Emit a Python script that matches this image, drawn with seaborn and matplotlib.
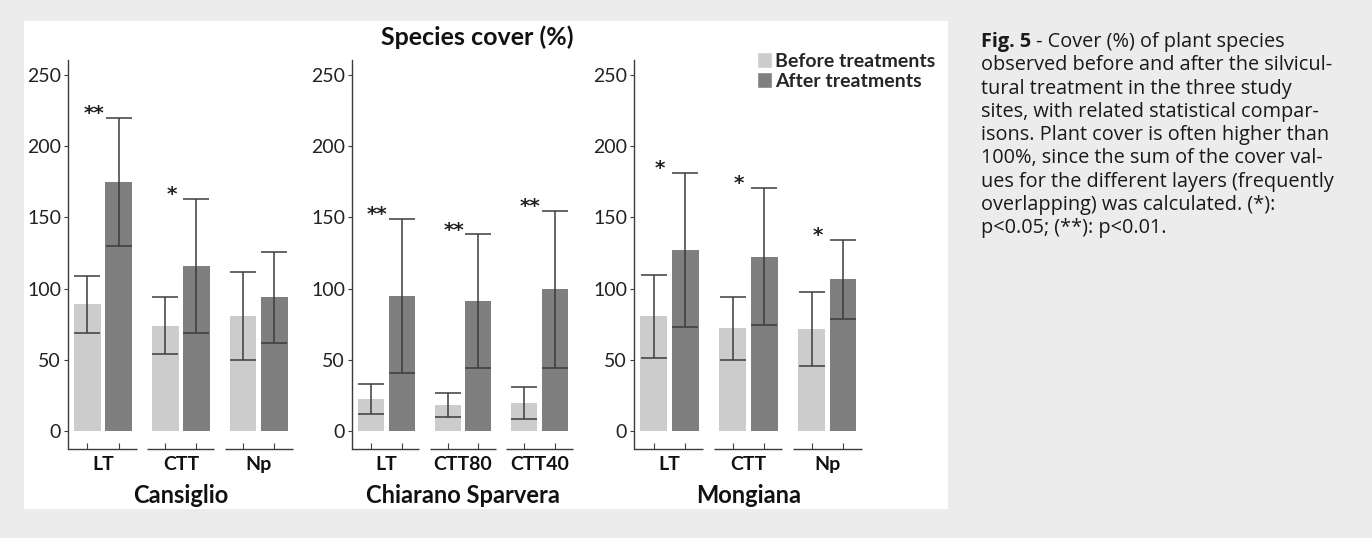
import matplotlib
matplotlib.use("Agg")
import matplotlib.pyplot as plt
import seaborn as sns
import pandas as pd
from matplotlib.patches import Rectangle, Patch
from matplotlib import transforms

# ---------------- data ----------------
sites = ["Cansiglio", "Chiarano Sparvera", "Mongiana"]
treatments = [["LT", "CTT", "Np"], ["LT", "CTT80", "CTT40"], ["LT", "CTT", "Np"]]
phases = ["Before treatments", "After treatments"]
before_mean = [[89, 74, 81], [22.5, 18.5, 19.5], [80.5, 72, 71.5]]
before_sd = [[20, 20, 31], [10.5, 8.3, 11.2], [29, 22, 26]]
after_mean = [[175, 116, 94], [95, 91, 99.5], [127, 122.5, 106.5]]
after_sd = [[45, 47, 32], [54, 47, 55], [54, 48, 27.5]]
significance = [["**", "*", ""], ["**", "**", "**"], ["*", "*", "*"]]
y_ticks = [0, 50, 100, 150, 200, 250]
title = "Species cover (%)"
caption_bold = "Fig. 5"
caption_lines = [
    " - Cover (%) of plant species",
    "observed before and after the silvicul-",
    "tural treatment in the three study",
    "sites, with related statistical compar-",
    "isons. Plant cover is often higher than",
    "100%, since the sum of the cover val-",
    "ues for the different layers (frequently",
    "overlapping) was calculated. (*):",
    "p<0.05; (**): p<0.01.",
]

# ---------------- style ----------------
sns.set_theme(style="ticks")
plt.rcParams["font.family"] = ["Lato", "DejaVu Sans"]
CAPTION_FONT = ["Open Sans", "DejaVu Sans"]
C_BEFORE = "#cccccc"
C_AFTER = "#7f7f7f"
LINE = "#3c3c3c"

W, H = 1372, 538
fig = plt.figure(figsize=(W / 100, H / 100), dpi=100)
fig.patch.set_facecolor("#ececec")
fig.patches.append(Rectangle((24 / W, 1 - 509 / H), (948 - 24) / W, (509 - 21) / H,
                             transform=fig.transFigure, facecolor="white",
                             edgecolor="none", zorder=-10))

def px(x0, y0, w, h):
    return [x0 / W, 1 - (y0 + h) / H, w / W, h / H]

axes_px = [(68, 60, 225, 389), (352, 60, 221, 389), (634, 60, 228, 389)]
YLIM = (-12.6, 260.5)
XLIM = (-0.45, 2.44)

for k, ax_px in enumerate(axes_px):
    ax = fig.add_axes(px(*ax_px))
    ax.set_facecolor("none")
    cats = treatments[k]
    df = pd.DataFrame({
        "treatment": cats + cats,
        "phase": [phases[0]] * 3 + [phases[1]] * 3,
        "cover": before_mean[k] + after_mean[k],
    })
    sns.barplot(data=df, x="treatment", y="cover", hue="phase", hue_order=phases,
                palette=[C_BEFORE, C_AFTER], width=0.8, gap=0.15, errorbar=None,
                saturation=1, legend=False, ax=ax, edgecolor="none")
    means = [before_mean[k], after_mean[k]]
    sds = [before_sd[k], after_sd[k]]
    bar_conts = list(ax.containers)
    for h, cont in enumerate(bar_conts):
        xs = [b.get_x() + b.get_width() / 2 for b in cont]
        ax.errorbar(xs, means[h], yerr=sds[h], fmt="none", ecolor=LINE,
                    elinewidth=1.1, capsize=9.4, capthick=1.1, zorder=5)
    # significance stars
    for i, s in enumerate(significance[k]):
        if s:
            top = after_mean[k][i] + after_sd[k][i]
            ax.text(i - 0.12, top + 3, s, ha="center", va="center",
                    fontsize=14.5, fontweight="bold", color="#222222",
                    family="DejaVu Sans")
    ax.set_xlim(*XLIM)
    ax.set_ylim(*YLIM)
    ax.set_yticks(y_ticks)
    ax.set_yticklabels([str(t) for t in y_ticks])
    ax.tick_params(axis="y", direction="out", length=3, width=0.8, pad=2,
                   labelsize=14, colors=LINE, labelcolor="#222222")
    centers = []
    for i in range(3):
        centers += [i - 0.2, i + 0.2]
    ax.set_xticks(centers, labels=[""] * 6)
    ax.set_xticks(range(3), labels=cats, minor=True)
    ax.tick_params(axis="x", which="major", direction="in", length=4, width=0.8,
                   colors=LINE)
    ax.tick_params(axis="x", which="minor", length=0, pad=5, labelsize=14)
    for lab in ax.get_xticklabels(minor=True):
        lab.set_fontweight("bold")
        lab.set_color("#111111")
    ax.set_xlabel("")
    ax.set_ylabel("")
    for sp in ["top", "right", "bottom"]:
        ax.spines[sp].set_visible(False)
    ax.spines["left"].set_color(LINE)
    ax.spines["left"].set_linewidth(1.0)
    # broken x axis segments, one per group
    for i in range(3):
        a = XLIM[0] if i == 0 else i - 0.43
        b = XLIM[1] if i == 2 else i + 0.43
        ax.plot([a, b], [YLIM[0], YLIM[0]], color=LINE, lw=1.0, clip_on=False,
                solid_capstyle="butt")
    # site label
    tr = transforms.blended_transform_factory(ax.transData, fig.transFigure)
    ax.text(1, 1 - 503 / H, sites[k], transform=tr, ha="center", va="baseline",
            fontsize=17, fontweight="bold", color="#111111")

fig.text(477 / W, 1 - 45 / H, title, ha="center", va="baseline", fontsize=18,
         fontweight="bold", color="#111111")

fig.legend(handles=[Patch(facecolor=C_BEFORE, label=phases[0]),
                    Patch(facecolor=C_AFTER, label=phases[1])],
           loc="upper left", bbox_to_anchor=(757 / W, 1 - 52 / H), frameon=False,
           handlelength=0.75, handleheight=0.9, handletextpad=0.2, labelspacing=0.12,
           borderpad=0, borderaxespad=0,
           prop={"weight": "bold", "size": 14})

# caption
cx = 981 / W
fig.canvas.draw()
r = fig.canvas.get_renderer()
tb = fig.text(cx, 1 - 47 / H, caption_bold, ha="left", va="baseline", fontsize=14.3,
              fontweight="bold", color="#1a1a1a", family=CAPTION_FONT)
bb = tb.get_window_extent(renderer=r)
for j, line in enumerate(caption_lines):
    x = bb.x1 / W if j == 0 else cx
    fig.text(x, 1 - (47 + 23.3 * j) / H, line, ha="left", va="baseline",
             fontsize=14.3, color="#1a1a1a", family=CAPTION_FONT)

fig.savefig("out.png", dpi=100, facecolor=fig.get_facecolor())
